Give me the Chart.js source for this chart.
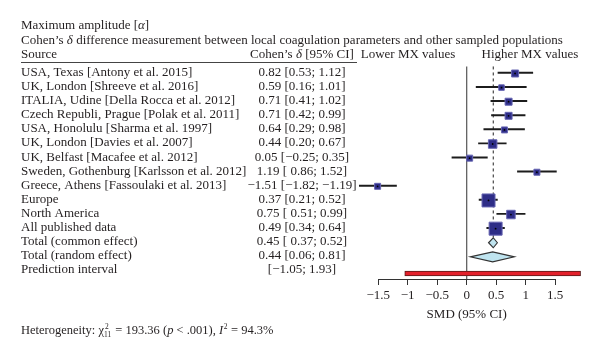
<!DOCTYPE html>
<html>
<head>
<meta charset="utf-8">
<script src="https://cdn.jsdelivr.net/npm/chart.js@4.4.1/dist/chart.umd.min.js"></script>
<style>
  html, body { margin: 0; padding: 0; background: #fff; }
  #wrap { width: 600px; height: 358px; }
</style>
</head>
<body>
<div id="wrap"><canvas id="forest" width="600" height="358"></canvas></div>
<script>
const sources = [
  "USA, Texas [Antony et al. 2015]",
  "UK, London [Shreeve et al. 2016]",
  "ITALIA, Udine [Della Rocca et al. 2012]",
  "Czech Republi, Prague [Polak et al. 2011]",
  "USA, Honolulu [Sharma et al. 1997]",
  "UK, London [Davies et al. 2007]",
  "UK, Belfast [Macafee et al. 2012]",
  "Sweden, Gothenburg [Karlsson et al. 2012]",
  "Greece, Athens [Fassoulaki et al. 2013]",
  "Europe",
  "North America",
  "All published data",
  "Total (common effect)",
  "Total (random effect)",
  "Prediction interval"
];
const estimates = [0.82, 0.59, 0.71, 0.71, 0.64, 0.44, 0.05, 1.19, -1.51, 0.37, 0.75, 0.49, 0.45, 0.44, null];
const lower = [0.53, 0.16, 0.41, 0.42, 0.29, 0.20, -0.25, 0.86, -1.82, 0.21, 0.51, 0.34, 0.37, 0.06, -1.05];
const upper = [1.12, 1.01, 1.02, 0.99, 0.98, 0.67, 0.35, 1.52, -1.19, 0.52, 0.99, 0.64, 0.52, 0.81, 1.93];
const ciLabels = [
  "0.82 [0.53; 1.12]", "0.59 [0.16; 1.01]", "0.71 [0.41; 1.02]", "0.71 [0.42; 0.99]",
  "0.64 [0.29; 0.98]", "0.44 [0.20; 0.67]", "0.05 [\u22120.25; 0.35]", "1.19 [ 0.86; 1.52]",
  "\u22121.51 [\u22121.82; \u22121.19]", "0.37 [0.21; 0.52]", "0.75 [ 0.51; 0.99]", "0.49 [0.34; 0.64]",
  "0.45 [ 0.37; 0.52]", "0.44 [0.06; 0.81]", "[\u22121.05; 1.93]"
];
// relative study weights (marker size), rows 0..11
const weights = [6, 4.5, 6, 6, 5, 7.5, 5, 5, 5, 12, 7.5, 12];
const tickValues = [-1.5, -1, -0.5, 0, 0.5, 1, 1.5];
const commonEffect = 0.45;

const FONT = "'Liberation Serif', 'Times New Roman', serif";
const INK = "#231f20";

const studyRows = weights.map((w, i) => i);
const diamondRows = [12, 13];
const predRow = 14;

function minus(v) {
  return String(v).replace("-", "\u2212");
}

// vertical reference lines, axis line and diamonds
const forestShapes = {
  id: "forestShapes",
  beforeDatasetsDraw(chart) {
    const { ctx, chartArea, scales: { x, y } } = chart;
    ctx.save();
    // solid no-effect line
    const x0 = x.getPixelForValue(0);
    ctx.strokeStyle = "#555";
    ctx.lineWidth = 1.2;
    ctx.beginPath();
    ctx.moveTo(x0, chartArea.top);
    ctx.lineTo(x0, chartArea.bottom);
    ctx.stroke();
    // dashed common effect line
    const xc = x.getPixelForValue(commonEffect);
    ctx.strokeStyle = "#222";
    ctx.lineWidth = 1;
    ctx.setLineDash([3, 3]);
    ctx.beginPath();
    ctx.moveTo(xc, chartArea.top);
    ctx.lineTo(xc, y.getPixelForValue(12) - 5);
    ctx.stroke();
    ctx.setLineDash([]);
    // axis line limited to tick range
    ctx.strokeStyle = "#333";
    ctx.lineWidth = 1;
    ctx.beginPath();
    ctx.moveTo(x.getPixelForValue(tickValues[0]), chartArea.bottom + 0.5);
    ctx.lineTo(x.getPixelForValue(tickValues[tickValues.length - 1]), chartArea.bottom + 0.5);
    ctx.stroke();
    ctx.restore();
  },
  afterDatasetsDraw(chart) {
    const { ctx, scales: { x, y } } = chart;
    ctx.save();
    diamondRows.forEach((r) => {
      const cy = y.getPixelForValue(r);
      const h = 5;
      ctx.beginPath();
      ctx.moveTo(x.getPixelForValue(lower[r]), cy);
      ctx.lineTo(x.getPixelForValue(estimates[r]), cy - h);
      ctx.lineTo(x.getPixelForValue(upper[r]), cy);
      ctx.lineTo(x.getPixelForValue(estimates[r]), cy + h);
      ctx.closePath();
      ctx.fillStyle = "#bfe4ef";
      ctx.fill();
      ctx.strokeStyle = "#333";
      ctx.lineWidth = 1.1;
      ctx.stroke();
    });
    ctx.restore();
  }
};

// table text, headers and footnote
const forestText = {
  id: "forestText",
  afterDraw(chart) {
    const { ctx, scales: { x, y } } = chart;
    ctx.save();
    ctx.fillStyle = INK;
    ctx.textBaseline = "middle";
    const f = (s, style = "") => `${style} ${s}px ${FONT}`.trim();
    const left = 21;
    const ciCenter = 302;

    // text made of plain and italic pieces
    function runs(parts, xStart, yy, size) {
      let cx = xStart;
      parts.forEach(([t, it]) => {
        ctx.font = f(size, it ? "italic" : "");
        ctx.textAlign = "left";
        ctx.fillText(t, cx, yy);
        cx += ctx.measureText(t).width;
      });
      return cx;
    }
    runs([["Maximum amplitude [", false], ["\u03b1", true], ["]", false]], left, 26, 13);
    runs([["Cohen\u2019s ", false], ["\u03b4", true],
      [" difference measurement between local coagulation parameters and other sampled populations", false]], left, 41, 13);

    // column headers
    const hy = 55;
    ctx.font = f(13);
    ctx.textAlign = "left";
    ctx.fillText("Source", left, hy);
    const hdrParts = [["Cohen\u2019s ", false], ["\u03b4", true], [" [95% CI]", false]];
    let hw = 0;
    hdrParts.forEach(([t, it]) => { ctx.font = f(13, it ? "italic" : ""); hw += ctx.measureText(t).width; });
    runs(hdrParts, ciCenter - hw / 2, hy, 13);
    ctx.font = f(13);
    ctx.textAlign = "center";
    ctx.fillText("Lower MX values", 408, hy);
    ctx.fillText("Higher MX values", 530, hy);

    // header rule
    ctx.strokeStyle = "#444";
    ctx.lineWidth = 1;
    ctx.beginPath();
    ctx.moveTo(left, 62.5);
    ctx.lineTo(357, 62.5);
    ctx.stroke();

    // rows
    sources.forEach((s, i) => {
      const yy = y.getPixelForValue(i) - 1;
      ctx.font = f(13);
      ctx.textAlign = "left";
      ctx.fillText(s, left, yy);
      ctx.textAlign = "center";
      ctx.fillText(ciLabels[i], ciCenter, yy);
    });

    // x axis title, centred on the tick range
    ctx.font = f(13);
    ctx.textAlign = "center";
    ctx.fillText("SMD (95% CI)", x.getPixelForValue(0), 315);

    // heterogeneity footnote
    const fy = 331;
    const fs = 12.5;
    let cx = runs([["Heterogeneity: \u03c7", false]], left, fy, fs);
    ctx.font = f(7.5);
    ctx.textAlign = "left";
    ctx.fillText("2", cx + 1, fy - 4);
    ctx.fillText("11", cx, fy + 4);
    cx += ctx.measureText("11").width + 1;
    cx = runs([[" = 193.36 (", false], ["p", true], [" < .001), ", false], ["I", true]], cx, fy, fs);
    ctx.font = f(7.5);
    ctx.fillText("2", cx + 0.5, fy - 4);
    cx += ctx.measureText("2").width + 1;
    runs([[" = 94.3%", false]], cx, fy, fs);

    ctx.restore();
  }
};

new Chart(document.getElementById("forest"), {
  type: "scatter",
  data: {
    datasets: [
      {
        type: "bar",
        indexAxis: "y",
        data: studyRows.map((i) => ({ y: i, x: [lower[i], upper[i]] })),
        barThickness: 1.3,
        backgroundColor: "#1c1c1c",
        borderWidth: 0,
        order: 3
      },
      {
        type: "bar",
        indexAxis: "y",
        data: [{ y: predRow, x: [lower[predRow], upper[predRow]] }],
        barThickness: 5,
        backgroundColor: "#e3202b",
        borderColor: "#5a1a1a",
        borderWidth: 1,
        borderSkipped: false,
        order: 3
      },
      {
        data: studyRows.map((i) => ({ x: estimates[i], y: i })),
        pointStyle: "rect",
        pointRadius: studyRows.map((i) => (weights[i] + 1) / Math.SQRT2),
        backgroundColor: "#2e2d87",
        borderColor: "#6766b3",
        borderWidth: 1,
        order: 2
      },
      {
        data: studyRows.map((i) => ({ x: estimates[i], y: i })),
        pointStyle: "circle",
        pointRadius: 0.9,
        backgroundColor: "#000",
        borderWidth: 0,
        order: 1
      }
    ]
  },
  options: {
    responsive: false,
    animation: false,
    devicePixelRatio: 1,
    layout: { padding: { left: 354.6, right: 15.3, top: 66.45, bottom: 49 } },
    plugins: { legend: { display: false }, tooltip: { enabled: false } },
    scales: {
      x: {
        type: "linear",
        min: -1.9,
        max: 2.0,
        afterBuildTicks: (axis) => { axis.ticks = tickValues.map((v) => ({ value: v })); },
        afterFit: (axis) => { axis.height = 30; },
        border: { display: false },
        grid: { drawOnChartArea: false, drawTicks: true, tickLength: 6, color: "#333", lineWidth: 1 },
        ticks: {
          autoSkip: false,
          maxRotation: 0,
          padding: 3,
          color: INK,
          font: { family: FONT, size: 13 },
          callback: (v) => minus(v)
        }
      },
      y: {
        type: "linear",
        min: -0.5,
        max: 14.57,
        reverse: true,
        offset: false,
        display: false
      }
    }
  },
  plugins: [forestShapes, forestText]
});
</script>
</body>
</html>
